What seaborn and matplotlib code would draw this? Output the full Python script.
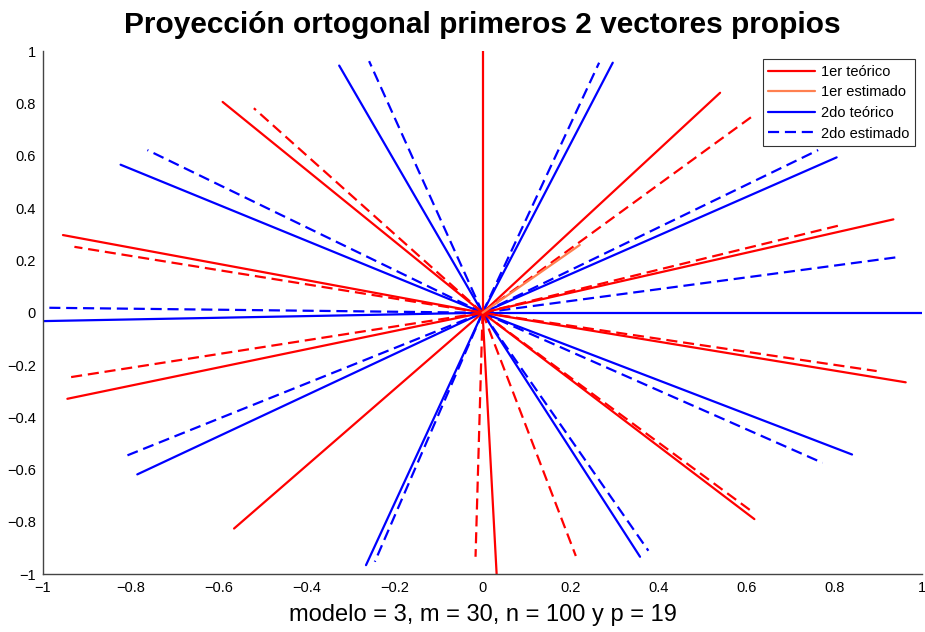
import numpy as np
import pandas as pd
import matplotlib
matplotlib.use("Agg")
import matplotlib.pyplot as plt
from matplotlib.lines import Line2D
import seaborn as sns

# End points of each projected vector (segments start at the origin)
teo1_x = [0.0, 0.540, 0.934, 0.962, 0.618, 0.032, -0.565, -0.944, -0.954, -0.591]
teo1_y = [1.0, 0.841, 0.357, -0.266, -0.789, -1.0, -0.825, -0.329, 0.297, 0.806]

est1_x = [0.614, 0.814, 0.896, 0.615, 0.212, -0.016, -0.947, -0.928, -0.520]
est1_y = [0.752, 0.335, -0.223, -0.763, -0.930, -0.933, -0.249, 0.252, 0.782]

est1_naranja_x = [0.221]
est1_naranja_y = [0.259]

teo2_x = [0.296, 0.805, 1.0, 0.840, 0.358, -0.265, -0.785, -1.0, -0.823, -0.326]
teo2_y = [0.956, 0.594, 0.0, -0.542, -0.933, -0.965, -0.618, -0.032, 0.566, 0.945]

est2_x = [0.265, 0.763, 0.950, 0.773, 0.377, -0.245, -0.819, -0.985, -0.762, -0.258]
est2_y = [0.956, 0.622, 0.214, -0.574, -0.910, -0.952, -0.553, 0.019, 0.622, 0.962]

etiquetas = ["1er teórico", "1er estimado", "2do teórico", "2do estimado"]

ROJO = "#FF0000"
NARANJA = "#FF8050"
AZUL = "#0000FF"

# Build a long table: one pair of rows (origin, end point) per segment
filas = []
seg = 0
for serie, xs, ys in [
    ("teo1", teo1_x, teo1_y),
    ("est1", est1_x, est1_y),
    ("est1n", est1_naranja_x, est1_naranja_y),
    ("teo2", teo2_x, teo2_y),
    ("est2", est2_x, est2_y),
]:
    for x, y in zip(xs, ys):
        filas.append({"x": 0.0, "y": 0.0, "serie": serie, "seg": seg})
        filas.append({"x": x, "y": y, "serie": serie, "seg": seg})
        seg += 1
df = pd.DataFrame(filas)

sns.set_style("white")
plt.rcParams["font.family"] = ["Liberation Sans", "DejaVu Sans"]
plt.rcParams["text.color"] = "black"
plt.rcParams["axes.labelcolor"] = "black"

fig = plt.figure(figsize=(9.25, 6.32), dpi=100)
ax = fig.add_axes([0.0462, 0.0913, 0.951, 0.8277])

paleta = {"teo1": ROJO, "est1": ROJO, "est1n": NARANJA, "teo2": AZUL, "est2": AZUL}
trazos = {"teo1": "", "est1": (5, 2.6), "est1n": "", "teo2": "", "est2": (5, 2.6)}

sns.lineplot(
    data=df, x="x", y="y", hue="serie", style="serie", units="seg",
    estimator=None, sort=False, palette=paleta, dashes=trazos,
    hue_order=["teo2", "est2", "est1", "teo1", "est1n"],
    linewidth=1.6, legend=False, ax=ax,
)

ax.set_xlim(-1, 1)
ax.set_ylim(-1, 1)
ticks = np.round(np.arange(-1, 1.01, 0.2), 1)
fmt = lambda v: ("0" if v == 0 else f"{v:g}").replace("-", "\u2212")
ax.set_xticks(ticks)
ax.set_yticks(ticks)
ax.set_xticklabels([fmt(v) for v in ticks])
ax.set_yticklabels([fmt(v) for v in ticks])
ax.tick_params(direction="in", length=6.5, width=0.8, color="#444444",
               labelcolor="black", labelsize=10.5, pad=5)
for lado in ["top", "right"]:
    ax.spines[lado].set_visible(False)
for lado in ["left", "bottom"]:
    ax.spines[lado].set_color("#444444")
    ax.spines[lado].set_linewidth(1.0)

ax.set_xlabel("modelo = 3, m = 30, n = 100 y p = 19", fontsize=17, labelpad=6)
ax.set_ylabel("")
ax.set_title("Proyección ortogonal primeros 2 vectores propios",
             fontsize=21.5, fontweight="bold", pad=13)

manejadores = [
    Line2D([], [], color=ROJO, lw=1.6),
    Line2D([], [], color=NARANJA, lw=1.6),
    Line2D([], [], color=AZUL, lw=1.6),
    Line2D([], [], color=AZUL, lw=1.6, dashes=(5, 2.6)),
]
leg = ax.legend(manejadores, etiquetas, loc="upper right",
                bbox_to_anchor=(0.9917, 0.985), fontsize=10.5,
                frameon=True, fancybox=False, handlelength=3.2,
                borderpad=0.4, labelspacing=0.45, handletextpad=0.4,
                borderaxespad=0.0)
leg.get_frame().set_edgecolor("black")
leg.get_frame().set_linewidth(0.8)

fig.savefig("out.png", dpi=100)
